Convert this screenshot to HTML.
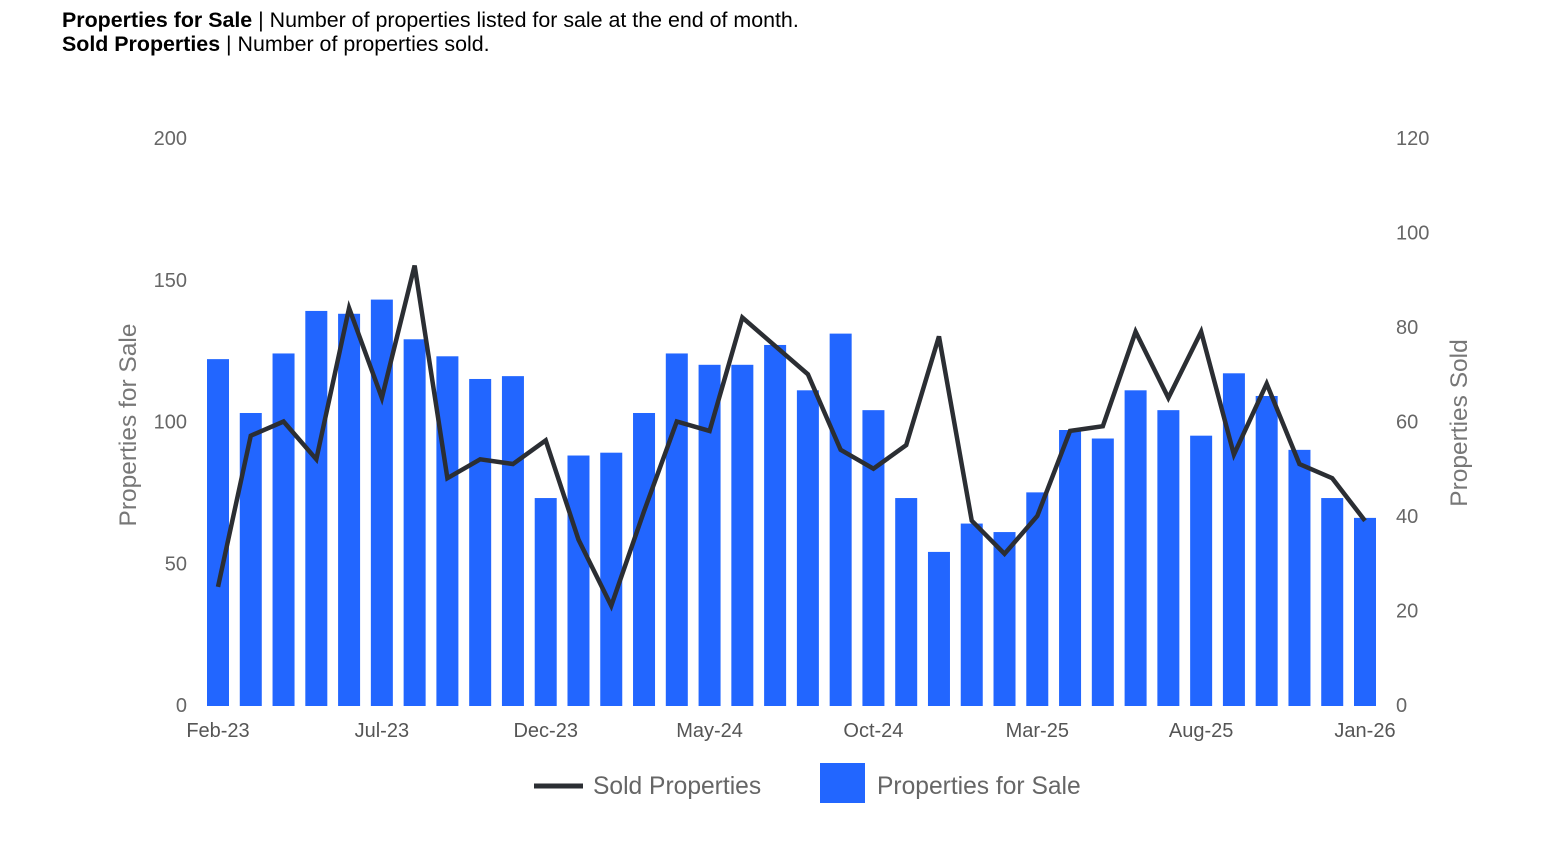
<!DOCTYPE html>
<html><head><meta charset="utf-8"><style>
body{margin:0;background:#fff;width:1566px;height:853px;overflow:hidden;font-family:"Liberation Sans",Arial,sans-serif}
.hdr{position:absolute;left:62px;font-size:21.4px;color:#000;white-space:nowrap}
</style></head><body>
<div class="hdr" style="top:8px"><b>Properties for Sale</b> | Number of properties listed for sale at the end of month.</div>
<div class="hdr" style="top:32px"><b>Sold Properties</b> | Number of properties sold.</div>
<svg id="chart" width="1566" height="853" style="position:absolute;left:0;top:0"></svg>
<script>
const months=["Feb-23","Mar-23","Apr-23","May-23","Jun-23","Jul-23","Aug-23","Sep-23","Oct-23","Nov-23","Dec-23","Jan-24","Feb-24","Mar-24","Apr-24","May-24","Jun-24","Jul-24","Aug-24","Sep-24","Oct-24","Nov-24","Dec-24","Jan-25","Feb-25","Mar-25","Apr-25","May-25","Jun-25","Jul-25","Aug-25","Sep-25","Oct-25","Nov-25","Dec-25","Jan-26"];
const forSale=[122,103,124,139,138,143,129,123,115,116,73,88,89,103,124,120,120,127,111,131,104,73,54,64,61,75,97,94,111,104,95,117,109,90,73,66];
const sold=[25,57,60,52,84,65,93,48,52,51,56,35,21,41,60,58,82,76,70,54,50,55,78,39,32,40,58,59,79,65,79,53,68,51,48,39];
const leftTicks=[0,50,100,150,200];
const rightTicks=[0,20,40,60,80,100,120];
const NS="http://www.w3.org/2000/svg";
const svg=document.getElementById('chart');
const y0=705,yTop=138,x0=218,x1=1365;
const yL=v=>y0-(y0-yTop)*v/200;
const yR=v=>y0-(y0-yTop)*v/120;
const xi=i=>x0+(x1-x0)*i/(months.length-1);
function mk(t,a,txt){const e=document.createElementNS(NS,t);for(const k in a)e.setAttribute(k,a[k]);if(txt!=null)e.textContent=txt;svg.appendChild(e);return e;}
leftTicks.forEach(v=>{const e=mk('text',{x:187,y:yL(v)+7,'text-anchor':'end','font-size':20,fill:'#666'},v);

});
rightTicks.forEach(v=>{const e=mk('text',{x:1396,y:yR(v)+7,'text-anchor':'start','font-size':20,fill:'#666'},v);

});
forSale.forEach((v,i)=>{const e=mk('rect',{x:xi(i)-11,y:yL(v),width:22,height:y0-yL(v)+1,fill:'#2266ff'});

});
const pl=mk('polyline',{points:sold.map((v,i)=>xi(i)+','+yR(v)).join(' '),fill:'none',stroke:'#2b2e33','stroke-width':4.5,'stroke-linejoin':'miter'});


months.forEach((m,i)=>{if(i%5)return;const e=mk('text',{x:xi(i),y:737,'text-anchor':'middle','font-size':20,fill:'#555'},m);

});
let t=mk('text',{x:0,y:0,transform:'translate(136,425) rotate(-90)','text-anchor':'middle','font-size':24.5,fill:'#777'},'Properties for Sale');


t=mk('text',{x:0,y:0,transform:'translate(1467,423) rotate(-90)','text-anchor':'middle','font-size':24.5,fill:'#777'},'Properties Sold');


t=mk('line',{x1:534,y1:786,x2:583,y2:786,stroke:'#2b2e33','stroke-width':5});


t=mk('text',{x:593,y:794,'font-size':24.6,fill:'#666'},'Sold Properties');


t=mk('rect',{x:820,y:763,width:45,height:40,fill:'#2266ff'});


t=mk('text',{x:877,y:794,'font-size':24.6,fill:'#666'},'Properties for Sale');


</script>
</body></html>
